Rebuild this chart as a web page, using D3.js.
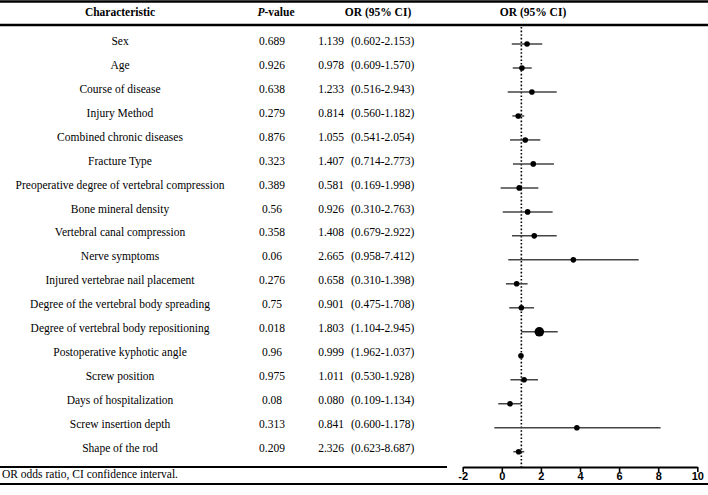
<!DOCTYPE html>
<html>
<head>
<meta charset="utf-8">
<title>Forest plot</title>
<script src="https://d3js.org/d3.v7.min.js"></script>
<style>
  body { margin: 0; background: #fff; }
  svg text { font-family: "Liberation Serif", "Times New Roman", serif; font-size: 11.5px; fill: #000; }
  .axis text { font-family: "Liberation Sans Narrow", "Liberation Sans", Arial, sans-serif; font-weight: bold; font-size: 11px; }
</style>
</head>
<body>
<svg></svg>
<script>
// table columns
const characteristics = [
  'Sex', 'Age', 'Course of disease', 'Injury Method', 'Combined chronic diseases',
  'Fracture Type', 'Preoperative degree of vertebral compression', 'Bone mineral density',
  'Vertebral canal compression', 'Nerve symptoms', 'Injured vertebrae nail placement',
  'Degree of the vertebral body spreading', 'Degree of vertebral body repositioning',
  'Postoperative kyphotic angle', 'Screw position', 'Days of hospitalization',
  'Screw insertion depth', 'Shape of the rod'
];
const pValues = ['0.689', '0.926', '0.638', '0.279', '0.876', '0.323', '0.389', '0.56', '0.358',
  '0.06', '0.276', '0.75', '0.018', '0.96', '0.975', '0.08', '0.313', '0.209'];
const orText = ['1.139', '0.978', '1.233', '0.814', '1.055', '1.407', '0.581', '0.926', '1.408',
  '2.665', '0.658', '0.901', '1.803', '0.999', '1.011', '0.080', '0.841', '2.326'];
const ciText = ['(0.602-2.153)', '(0.609-1.570)', '(0.516-2.943)', '(0.560-1.182)', '(0.541-2.054)',
  '(0.714-2.773)', '(0.169-1.998)', '(0.310-2.763)', '(0.679-2.922)', '(0.958-7.412)',
  '(0.310-1.398)', '(0.475-1.708)', '(1.104-2.945)', '(1.962-1.037)', '(0.530-1.928)',
  '(0.109-1.134)', '(0.600-1.178)', '(0.623-8.687)'];

// plotted positions as drawn in the forest panel
const estPlot = [1.29, 1.03, 1.54, 0.84, 1.20, 1.61, 0.89, 1.32, 1.66, 3.66, 0.76, 1.00, 1.92, 0.98, 1.14, 0.42, 3.84, 0.86];
const lowPlot = [0.51, 0.56, 0.30, 0.54, 0.42, 0.57, -0.06, 0.05, 0.52, 0.33, 0.21, 0.38, 0.98, 0.95, 0.44, -0.18, -0.38, 0.59];
const highPlot = [2.07, 1.53, 2.81, 1.15, 1.97, 2.67, 1.87, 2.60, 2.81, 7.00, 1.32, 1.65, 2.86, 1.03, 1.85, 1.00, 8.12, 1.15];
const xTicks = [-2, 0, 2, 4, 6, 8, 10];

const width = 708, height = 495;
const svg = d3.select('svg').attr('width', width).attr('height', height);

const rowY = d3.scalePoint().domain(d3.range(characteristics.length)).range([44, 451.7]);
const x = d3.scaleLinear().domain([-2, 10]).range([462.7, 697.3]);
const axisY = 467;

// rules
const rule = (x1, x2, y, w) => svg.append('line')
  .attr('x1', x1).attr('x2', x2).attr('y1', y).attr('y2', y)
  .attr('stroke', '#000').attr('stroke-width', w);
rule(0, width, 1.5, 2.5);
rule(0, width, 25, 2.5);
rule(0, 447, axisY, 2);
rule(0, width, 484, 2);

// header
const head = svg.append('g');
head.append('text').attr('x', 120).attr('y', 13).attr('text-anchor', 'middle')
  .attr('dominant-baseline', 'middle').attr('font-weight', 'bold').text('Characteristic');
const pv = head.append('text').attr('x', 276).attr('y', 13).attr('text-anchor', 'middle')
  .attr('dominant-baseline', 'middle').attr('font-weight', 'bold');
pv.append('tspan').attr('font-style', 'italic').text('P');
pv.append('tspan').text('-value');
head.append('text').attr('x', 378).attr('y', 13).attr('text-anchor', 'middle')
  .attr('dominant-baseline', 'middle').attr('font-weight', 'bold').text('OR (95% CI)');
head.append('text').attr('x', 533).attr('y', 13).attr('text-anchor', 'middle')
  .attr('dominant-baseline', 'middle').attr('font-weight', 'bold').text('OR (95% CI)');

// body rows
const rows = svg.append('g').selectAll('g').data(characteristics).join('g')
  .attr('transform', (d, i) => 'translate(0,' + (rowY(i) - 2) + ')');
rows.append('text').attr('x', 120).attr('text-anchor', 'middle').attr('dominant-baseline', 'middle').text(d => d);
rows.append('text').attr('x', 272).attr('text-anchor', 'middle').attr('dominant-baseline', 'middle').text((d, i) => pValues[i]);
rows.append('text').attr('x', 344).attr('text-anchor', 'end').attr('dominant-baseline', 'middle').text((d, i) => orText[i]);
rows.append('text').attr('x', 351).attr('text-anchor', 'start').attr('dominant-baseline', 'middle').text((d, i) => ciText[i]);

// reference line at OR = 1
svg.append('line').attr('x1', x(1)).attr('x2', x(1)).attr('y1', 27).attr('y2', axisY)
  .attr('stroke', '#000').attr('stroke-width', 1.6).attr('stroke-dasharray', '1.6,2');

// CI lines and markers
const plot = svg.append('g');
plot.selectAll('line').data(estPlot).join('line')
  .attr('x1', (d, i) => x(lowPlot[i])).attr('x2', (d, i) => x(highPlot[i]))
  .attr('y1', (d, i) => rowY(i)).attr('y2', (d, i) => rowY(i))
  .attr('stroke', '#444').attr('stroke-width', 1.5);
plot.selectAll('circle').data(estPlot).join('circle')
  .attr('cx', d => x(d)).attr('cy', (d, i) => rowY(i))
  .attr('r', (d, i) => i === 12 ? 4.8 : 2.8)
  .attr('fill', '#000');

// axis
const axis = svg.append('g').attr('class', 'axis').attr('transform', 'translate(0,' + axisY + ')')
  .call(d3.axisBottom(x).tickValues(xTicks).tickSize(5).tickSizeOuter(0).tickPadding(0)
    .tickFormat(d => String(d)));
axis.select('.domain').attr('stroke-width', 2);
axis.selectAll('.tick line').attr('stroke-width', 1.6);

// footnote
svg.append('text').attr('x', 2).attr('y', 475).attr('dominant-baseline', 'middle')
  .text('OR odds ratio, CI confidence interval.');
</script>
</body>
</html>
